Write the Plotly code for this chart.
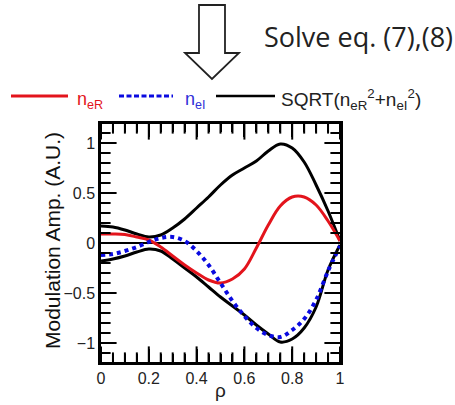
import plotly.graph_objects as go

# ---- data ----
rho = [0.0, 0.05, 0.10, 0.15, 0.20, 0.25, 0.30, 0.35, 0.40, 0.45, 0.50,
       0.55, 0.60, 0.65, 0.70, 0.75, 0.80, 0.85, 0.90, 0.95, 1.0]
n_eR = [0.09, 0.09, 0.085, 0.06, 0.03, -0.04, -0.13, -0.22, -0.30, -0.37, -0.40,
        -0.36, -0.26, -0.05, 0.18, 0.37, 0.46, 0.46, 0.38, 0.22, 0.02]
n_eI = [-0.12, -0.11, -0.08, -0.04, 0.01, 0.05, 0.06, 0.02, -0.08, -0.22, -0.40,
        -0.58, -0.73, -0.85, -0.92, -0.94, -0.87, -0.76, -0.57, -0.28, -0.03]
amp_pos = [0.17, 0.16, 0.13, 0.09, 0.06, 0.08, 0.15, 0.24, 0.35, 0.46, 0.58,
           0.68, 0.75, 0.82, 0.92, 0.99, 0.95, 0.81, 0.58, 0.32, 0.02]
amp_neg = [-0.18, -0.16, -0.13, -0.09, -0.06, -0.08, -0.16, -0.25, -0.34, -0.44, -0.54,
           -0.63, -0.72, -0.82, -0.91, -0.99, -0.96, -0.85, -0.64, -0.27, -0.02]

x_major = [0.0, 0.2, 0.4, 0.6, 0.8, 1.0]
x_minor = [i * 0.05 for i in range(21)]
y_major = [-1.0, -0.5, 0.0, 0.5, 1.0]
y_minor = [round(-1.1 + i * 0.1, 2) for i in range(23)]

RED = "#e3141c"
BLUE = "#0a0ae0"
FONT = "Liberation Sans, Arial, sans-serif"

# ---- layout geometry (pixels) ----
W, H = 455, 405
L, R, T, B = 101, 340, 124, 362
XR = [0.0, 1.0]
YR = [-1.19, 1.19]
DX = (XR[1] - XR[0]) / (R - L)   # data units per pixel
DY = (YR[1] - YR[0]) / (B - T)
MAJ, MIN = 13, 8


def px(x):
    return (x - L) / (R - L)


def py(y):
    return (B - y) / (B - T)


fig = go.Figure()
fig.add_trace(go.Scatter(x=rho, y=amp_pos, mode="lines",
                         line=dict(color="black", width=3, shape="spline")))
fig.add_trace(go.Scatter(x=rho, y=amp_neg, mode="lines",
                         line=dict(color="black", width=3, shape="spline")))
fig.add_trace(go.Scatter(x=rho, y=n_eR, mode="lines",
                         line=dict(color=RED, width=3, shape="spline")))
fig.add_trace(go.Scatter(x=rho, y=n_eI, mode="lines",
                         line=dict(color=BLUE, width=4, shape="spline", dash="4px,4px")))


# inside tick marks on all four sides (drawn as line markers so they always show)
def tick_trace(xs, ys, symbol, size):
    return go.Scatter(x=xs, y=ys, mode="markers", cliponaxis=False, hoverinfo="skip",
                      marker=dict(symbol=symbol, size=size, color="black",
                                  line=dict(color="black", width=2)))


for xs, size in ((x_major, MAJ), ([v for v in x_minor if round(v / 0.2, 6) % 1 != 0], MIN)):
    off = size / 2 * DY
    fig.add_trace(tick_trace(xs, [YR[0] + off] * len(xs), "line-ns", size))
    fig.add_trace(tick_trace(xs, [YR[1] - off] * len(xs), "line-ns", size))
for ys, size in ((y_major, MAJ), ([v for v in y_minor if round(v / 0.5, 6) % 1 != 0], MIN)):
    off = size / 2 * DX
    fig.add_trace(tick_trace([XR[0] + off] * len(ys), ys, "line-ew", size))
    fig.add_trace(tick_trace([XR[1] - off] * len(ys), ys, "line-ew", size))

axis_common = dict(
    showline=True, linecolor="black", linewidth=2.5, mirror="ticks",
    ticks="inside", ticklen=MAJ, tickwidth=2, tickcolor="black",
    showgrid=False, tickfont=dict(family=FONT, size=16, color="#222"),
)

fig.update_xaxes(range=XR, tickmode="linear", tick0=0, dtick=0.2, zeroline=False,
                 minor=dict(tickmode="linear", tick0=0, dtick=0.05, ticks="inside",
                            ticklen=MIN, tickwidth=2, tickcolor="black", showgrid=False),
                 **axis_common)
fig.update_yaxes(range=YR, tickmode="linear", tick0=0, dtick=0.5,
                 zeroline=True, zerolinecolor="black", zerolinewidth=2,
                 minor=dict(tickmode="linear", tick0=0, dtick=0.1, ticks="inside",
                            ticklen=MIN, tickwidth=2, tickcolor="black", showgrid=False),
                 **axis_common)

shapes = []
# hollow down arrow
arrow = [(199, 5), (225, 5), (225, 53), (239, 53), (212, 79), (185, 53), (199, 53)]
path = "M " + " L ".join(f"{px(x):.4f},{py(y):.4f}" for x, y in arrow) + " Z"
shapes.append(dict(type="path", xref="paper", yref="paper", path=path,
                   line=dict(color="#222", width=1.8), fillcolor="white"))
# legend sample lines
shapes.append(dict(type="line", xref="paper", yref="paper", x0=px(11), x1=px(68), y0=py(96), y1=py(96),
                   line=dict(color=RED, width=3)))
shapes.append(dict(type="line", xref="paper", yref="paper", x0=px(119), x1=px(173), y0=py(96), y1=py(96),
                   line=dict(color=BLUE, width=3, dash="5px,2.5px")))
shapes.append(dict(type="line", xref="paper", yref="paper", x0=px(216), x1=px(275), y0=py(96), y1=py(96),
                   line=dict(color="black", width=2.5)))

annotations = [
    dict(text="Solve eq. (7),(8)", x=px(262), y=py(37), xref="paper", yref="paper",
         xanchor="left", yanchor="middle", showarrow=False,
         font=dict(family="Open Sans, sans-serif", size=27, color="#222")),
    dict(text="n<sub>eR</sub>", x=px(75), y=py(101), xref="paper", yref="paper",
         xanchor="left", yanchor="middle", showarrow=False,
         font=dict(family=FONT, size=18, color=RED)),
    dict(text="n<sub>eI</sub>", x=px(183), y=py(101), xref="paper", yref="paper",
         xanchor="left", yanchor="middle", showarrow=False,
         font=dict(family=FONT, size=18, color="#3030d8")),
    dict(text="SQRT(n<sub>eR</sub><sup>2</sup>+n<sub>eI</sub><sup>2</sup>)", x=px(279), y=py(100),
         xref="paper", yref="paper", xanchor="left", yanchor="middle", showarrow=False,
         font=dict(family=FONT, size=19, color="#222")),
    dict(text="Modulation Amp. (A.U.)", x=px(52), y=py(241), xref="paper", yref="paper",
         xanchor="center", yanchor="middle", textangle=-90, showarrow=False,
         font=dict(family=FONT, size=21, color="#111")),
    dict(text="ρ", x=px(220), y=py(390), xref="paper", yref="paper",
         xanchor="center", yanchor="middle", showarrow=False,
         font=dict(family=FONT, size=19, color="#222")),
]

fig.update_layout(
    template="none",
    width=W, height=H,
    margin=dict(l=L, r=W - R, t=T, b=H - B, pad=0),
    paper_bgcolor="white", plot_bgcolor="white",
    showlegend=False,
    shapes=shapes, annotations=annotations,
)

fig.write_html("out.html")
